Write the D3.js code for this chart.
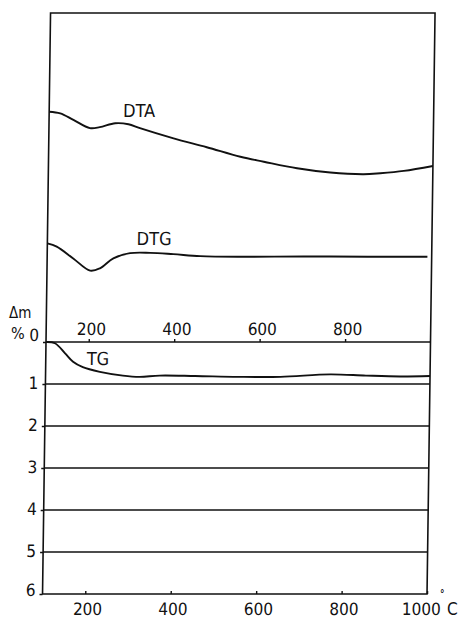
<!DOCTYPE html>
<html>
<head>
<meta charset="utf-8">
<script src="https://cdn.jsdelivr.net/npm/d3@7"></script>
<style>
  body { margin: 0; background: #fff; }
  svg text { font-family: "Liberation Sans Narrow", "DejaVu Sans Condensed", sans-serif; font-size: 18px; fill: #111; }
</style>
</head>
<body>
<div id="chart"></div>
<script>
// tick labels
const topTicks = [200, 400, 600, 800];
const bottomTicks = [200, 400, 600, 800, 1000];
const massTicks = [0, 1, 2, 3, 4, 5, 6];

// DTA curve (temperature in C, signal in arbitrary units)
const dtaTemp = [100, 126, 157, 196, 219, 255, 286, 313, 392, 470, 549, 604, 682, 760, 838, 877, 932, 1000];
const dtaSignal = [70.0, 69.5, 67.5, 65.0, 65.3, 66.5, 66.2, 65.0, 61.9, 59.2, 56.3, 54.8, 52.8, 51.5, 51.0, 51.3, 52.0, 53.5];

// DTG curve
const dtgTemp = [100, 122, 161, 201, 224, 255, 294, 341, 395, 458, 553, 700, 850, 990];
const dtgSignal = [30.0, 29.0, 25.4, 21.7, 22.4, 25.4, 27.0, 27.1, 26.7, 26.1, 25.9, 26.0, 25.9, 25.9];

// TG curve (mass loss, %)
const tgTemp = [100, 121, 145, 164, 187, 227, 281, 320, 367, 450, 550, 650, 766, 850, 930, 1000];
const tgLoss = [0, 0.03, 0.27, 0.47, 0.60, 0.71, 0.80, 0.83, 0.80, 0.81, 0.83, 0.83, 0.77, 0.80, 0.82, 0.81];

const W = 460, H = 620;
const plotLeft = 46, plotRight = 430.5, plotTop = 13, zeroY = 342, plotBottom = 594;
const shear = -0.79; // the scanned figure leans a little

const svg = d3.select("#chart").append("svg")
  .attr("width", W)
  .attr("height", H);

const g = svg.append("g")
  .attr("transform", `translate(0,${zeroY}) skewX(${shear}) translate(0,${-zeroY})`);

const x = d3.scaleLinear().domain([100, 1000]).range([plotLeft, plotRight]);
const yMass = d3.scaleLinear().domain([0, 6]).range([zeroY, plotBottom]);
const ySig = d3.scaleLinear().domain([0, 100]).range([zeroY, plotTop]);

const ink = "#111";
const plain = d => String(d);

// outer frame
g.append("rect")
  .attr("x", x(100))
  .attr("y", ySig(100))
  .attr("width", x(1000) - x(100))
  .attr("height", yMass(6) - ySig(100))
  .attr("fill", "none")
  .attr("stroke", ink)
  .attr("stroke-width", 1.6);

// mass-loss grid lines
g.selectAll("line.grid")
  .data(massTicks.slice(0, 6))
  .join("line")
  .attr("class", "grid")
  .attr("x1", x(100))
  .attr("x2", x(1000))
  .attr("y1", d => yMass(d))
  .attr("y2", d => yMass(d))
  .attr("stroke", ink)
  .attr("stroke-width", 1.6);

// left axis
const yAxis = g.append("g")
  .attr("transform", `translate(${plotLeft},0)`)
  .call(d3.axisLeft(yMass).tickValues(massTicks).tickFormat(plain).tickSize(3).tickPadding(4));
yAxis.select(".domain").remove();
yAxis.selectAll("text")
  .attr("dy", d => d === 0 ? "-0.11em" : d === 6 ? "0.1em" : "0.24em");

// top temperature axis on the zero line
const topAxis = g.append("g")
  .attr("transform", `translate(0,${zeroY})`)
  .call(d3.axisTop(x).tickValues(topTicks).tickFormat(plain).tickSize(3).tickPadding(4));
topAxis.select(".domain").remove();
topAxis.selectAll("text").attr("dx", 2);

// bottom temperature axis
const bottomAxis = g.append("g")
  .attr("transform", `translate(0,${plotBottom})`)
  .call(d3.axisBottom(x).tickValues(bottomTicks).tickFormat(plain).tickSizeInner(-3).tickSizeOuter(0).tickPadding(9));
bottomAxis.select(".domain").remove();
bottomAxis.selectAll("text").attr("dx", d => d === 1000 ? -6 : 2);

g.selectAll(".tick line").attr("stroke", ink).attr("stroke-width", 1.4);
g.selectAll(".tick text").style("font-size", "17px").attr("fill", ink);

// curves
const sigLine = d3.line()
  .x(d => x(d[0]))
  .y(d => ySig(d[1]))
  .curve(d3.curveCatmullRom.alpha(0.5));

const massLine = d3.line()
  .x(d => x(d[0]))
  .y(d => yMass(d[1]))
  .curve(d3.curveCatmullRom.alpha(0.5));

g.append("path")
  .datum(d3.zip(dtaTemp, dtaSignal))
  .attr("d", sigLine)
  .attr("fill", "none")
  .attr("stroke", ink)
  .attr("stroke-width", 1.9);

g.append("path")
  .datum(d3.zip(dtgTemp, dtgSignal))
  .attr("d", sigLine)
  .attr("fill", "none")
  .attr("stroke", ink)
  .attr("stroke-width", 1.9);

g.append("path")
  .datum(d3.zip(tgTemp, tgLoss))
  .attr("d", massLine)
  .attr("fill", "none")
  .attr("stroke", ink)
  .attr("stroke-width", 1.9);

// curve names
g.append("text").attr("x", x(273)).attr("y", ySig(68.5)).text("DTA");
g.append("text").attr("x", x(309)).attr("y", ySig(29.5)).text("DTG");
g.append("text").attr("x", x(196)).attr("y", yMass(0.55)).text("TG");

// axis units
svg.append("text").attr("x", 9).attr("y", 318).style("font-size", "15px").text("Δm");
svg.append("text").attr("x", 11).attr("y", 339).style("font-size", "16px").text("%");
svg.append("text").attr("x", 440).attr("y", 597).style("font-size", "10px").style("font-weight", "bold").text("°");
svg.append("text").attr("x", 447).attr("y", 615).style("font-size", "17px").text("C");
</script>
</body>
</html>
